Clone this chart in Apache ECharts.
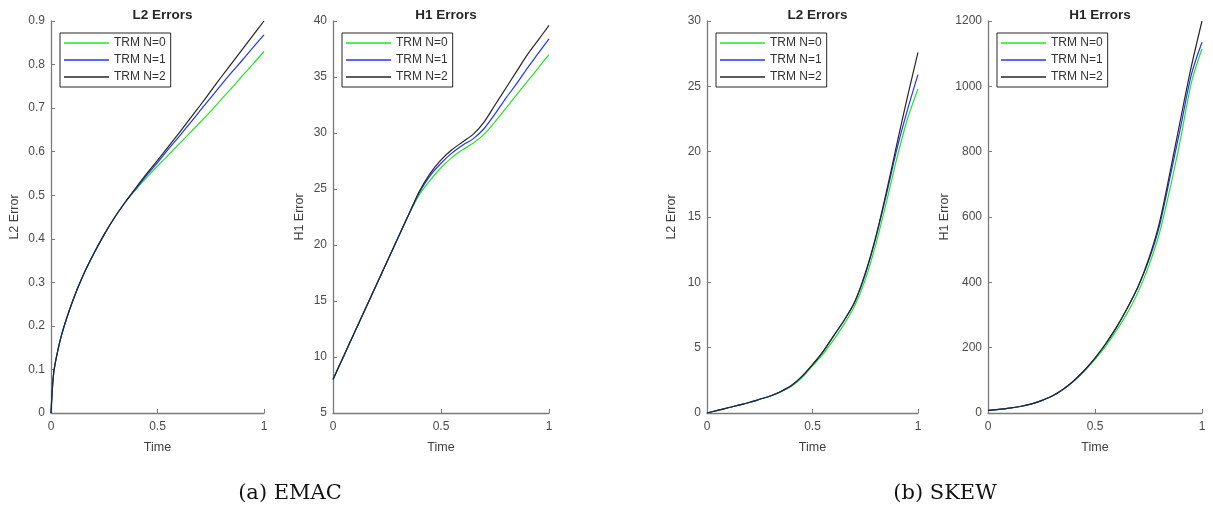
<!DOCTYPE html>
<html>
<head>
<meta charset="utf-8">
<script src="https://cdn.jsdelivr.net/npm/echarts@6/dist/echarts.min.js"></script>
<style>
html,body{margin:0;padding:0;background:#fff;}
#main{width:1213px;height:514px;}
</style>
</head>
<body>
<div id="main"></div>
<script>
// ---------- data ----------
const seriesNames = ['TRM N=0', 'TRM N=1', 'TRM N=2'];
const panelTitles = ['L2 Errors', 'H1 Errors', 'L2 Errors', 'H1 Errors'];
const yAxisNames = ['L2 Error', 'H1 Error', 'L2 Error', 'H1 Error'];
const xTickLabels = ['0', '0.5', '1'];
const captions = ['(a) EMAC', '(b) SKEW'];

// (a) EMAC – L2
const timeEmacL2 = [0, 0.01, 0.02, 0.05, 0.1, 0.15, 0.2, 0.25, 0.3, 0.35, 0.4, 0.45, 0.5, 0.55, 0.6, 0.65, 0.7, 0.75, 0.8, 0.85, 0.9, 0.95, 1];
const emacL2N0 = [0, 0.08, 0.115, 0.18, 0.255, 0.315, 0.365, 0.41, 0.45, 0.485, 0.514, 0.541, 0.567, 0.592, 0.617, 0.642, 0.667, 0.693, 0.72, 0.747, 0.775, 0.802, 0.83];
const emacL2N1 = [0, 0.08, 0.115, 0.18, 0.255, 0.315, 0.365, 0.41, 0.45, 0.485, 0.516, 0.546, 0.575, 0.605, 0.634, 0.664, 0.694, 0.724, 0.754, 0.783, 0.811, 0.84, 0.868];
const emacL2N2 = [0, 0.08, 0.115, 0.18, 0.255, 0.315, 0.365, 0.41, 0.45, 0.485, 0.518, 0.55, 0.58, 0.611, 0.642, 0.674, 0.706, 0.739, 0.772, 0.804, 0.836, 0.868, 0.9];

// (a) EMAC – H1
const timeStd = [0, 0.05, 0.1, 0.15, 0.2, 0.25, 0.3, 0.35, 0.4, 0.45, 0.5, 0.55, 0.6, 0.65, 0.7, 0.75, 0.8, 0.85, 0.9, 0.95, 1];
const emacH1N0 = [8, 10.1, 12.2, 14.3, 16.4, 18.5, 20.6, 22.7, 24.5, 25.8, 26.9, 27.8, 28.5, 29.1, 29.9, 31, 32.2, 33.4, 34.6, 35.8, 37];
const emacH1N1 = [8, 10.1, 12.2, 14.3, 16.4, 18.5, 20.6, 22.7, 24.7, 26.2, 27.3, 28.2, 28.9, 29.5, 30.4, 31.7, 33.1, 34.4, 35.8, 37.1, 38.4];
const emacH1N2 = [8, 10.1, 12.2, 14.3, 16.4, 18.5, 20.6, 22.7, 24.8, 26.4, 27.6, 28.5, 29.2, 29.9, 31, 32.5, 34, 35.5, 37, 38.3, 39.6];

// (b) SKEW – L2
const skewL2N0 = [0, 0.2, 0.4, 0.6, 0.8, 1.05, 1.3, 1.62, 2.05, 2.7, 3.6, 4.5, 5.6, 6.8, 8.2, 10.2, 12.9, 16.1, 19.5, 22.5, 24.8];
const skewL2N1 = [0, 0.2, 0.4, 0.6, 0.8, 1.05, 1.3, 1.65, 2.1, 2.8, 3.7, 4.7, 5.9, 7.1, 8.5, 10.6, 13.4, 16.7, 20.2, 23.2, 25.9];
const skewL2N2 = [0, 0.2, 0.4, 0.6, 0.8, 1.05, 1.3, 1.65, 2.1, 2.8, 3.7, 4.7, 5.9, 7.1, 8.5, 10.7, 13.5, 16.9, 20.6, 24.2, 27.6];

// (b) SKEW – H1
const skewH1N0 = [8, 11, 15, 20, 27, 38, 52, 72, 97, 128, 164, 205, 252, 305, 368, 448, 548, 685, 840, 1010, 1115];
const skewH1N1 = [8, 11, 15, 20, 27, 38, 52, 72, 98, 130, 168, 212, 262, 320, 385, 465, 570, 720, 875, 1035, 1135];
const skewH1N2 = [8, 11, 15, 20, 27, 38, 52, 72, 98, 130, 168, 212, 262, 320, 385, 470, 580, 735, 900, 1060, 1200];

const yMins = [0, 5, 0, 0];
const yMaxs = [0.9, 40, 30, 1200];
const yIntervals = [0.1, 5, 5, 200];

// ---------- layout / style ----------
const grids = [
  {left: 51, top: 21, width: 213, height: 392},
  {left: 333, top: 21, width: 216, height: 392},
  {left: 707, top: 21, width: 211, height: 392},
  {left: 988, top: 21, width: 214, height: 392}
];
const yNameGaps = [30, 27, 29, 34];
const colors = ['#22e622', '#2233ff', '#262626'];
const panels = [
  {t: timeEmacL2, ys: [emacL2N0, emacL2N1, emacL2N2]},
  {t: timeStd, ys: [emacH1N0, emacH1N1, emacH1N2]},
  {t: timeStd, ys: [skewL2N0, skewL2N1, skewL2N2]},
  {t: timeStd, ys: [skewH1N0, skewH1N1, skewH1N2]}
];
const font = 'Liberation Sans, Arial, sans-serif';
const axisColor = '#7a7a7a';
const labelColor = '#4a4a4a';

const option = {
  animation: false,
  backgroundColor: '#fff',
  textStyle: {fontFamily: font},
  title: panelTitles.map((t, i) => ({
    text: t,
    left: grids[i].left + grids[i].width / 2,
    top: 3,
    textAlign: 'center',
    textStyle: {fontSize: 13.5, fontWeight: 'bold', color: '#262626', fontFamily: font}
  })),
  legend: grids.map(g => ({
    data: seriesNames.map(n => ({name: n, icon: 'rect'})),
    orient: 'vertical',
    left: g.left + 9,
    top: 33,
    itemWidth: 45,
    itemHeight: 1.5,
    itemGap: 5,
    padding: [4, 5, 4, 4],
    borderColor: '#262626',
    borderWidth: 1,
    borderRadius: 0,
    backgroundColor: '#fff',
    selectedMode: false,
    textStyle: {fontSize: 12, color: '#333', fontFamily: font}
  })),
  grid: grids.map(g => Object.assign({containLabel: false}, g)),
  xAxis: grids.map((g, i) => ({
    type: 'value',
    gridIndex: i,
    min: 0, max: 1, interval: 0.5,
    name: 'Time',
    nameLocation: 'middle',
    nameGap: 28,
    nameTextStyle: {fontSize: 12.5, color: '#404040'},
    axisLine: {show: true, lineStyle: {color: axisColor, width: 1.3}},
    axisTick: {show: true, inside: true, length: 4, lineStyle: {color: axisColor}},
    axisLabel: {fontSize: 12, color: labelColor, margin: 8,
      formatter: v => xTickLabels[Math.round(v * 2)]},
    splitLine: {show: false}
  })),
  yAxis: grids.map((g, i) => ({
    type: 'value',
    gridIndex: i,
    min: yMins[i], max: yMaxs[i], interval: yIntervals[i],
    name: yAxisNames[i],
    nameLocation: 'middle',
    nameGap: yNameGaps[i],
    nameTextStyle: {fontSize: 12.5, color: '#404040'},
    axisLine: {show: true, lineStyle: {color: axisColor, width: 1.3}},
    axisTick: {show: true, inside: true, length: 4, lineStyle: {color: axisColor}},
    axisLabel: {fontSize: 12, color: labelColor, margin: 6,
      formatter: v => String(Math.round(v * 1000) / 1000)},
    splitLine: {show: false}
  })),
  series: [],
  graphic: captions.map((c, i) => ({
    type: 'text',
    style: {
      text: c,
      x: i === 0 ? 290 : 945,
      y: 494,
      align: 'center',
      verticalAlign: 'middle',
      font: '21px "DejaVu Serif", "Liberation Serif", serif',
      fill: '#111'
    }
  }))
};

panels.forEach((p, gi) => {
  p.ys.forEach((vals, si) => {
    option.series.push({
      type: 'line',
      name: seriesNames[si],
      xAxisIndex: gi,
      yAxisIndex: gi,
      data: p.t.map((t, k) => [t, vals[k]]),
      smooth: 0.3,
      symbol: 'none',
      showSymbol: false,
      lineStyle: {color: colors[si], width: 1.2},
      itemStyle: {color: colors[si]},
      z: 2 + si
    });
  });
});

const chart = echarts.init(document.getElementById('main'), null, {renderer: 'canvas'});
chart.setOption(option);
</script>
</body>
</html>
